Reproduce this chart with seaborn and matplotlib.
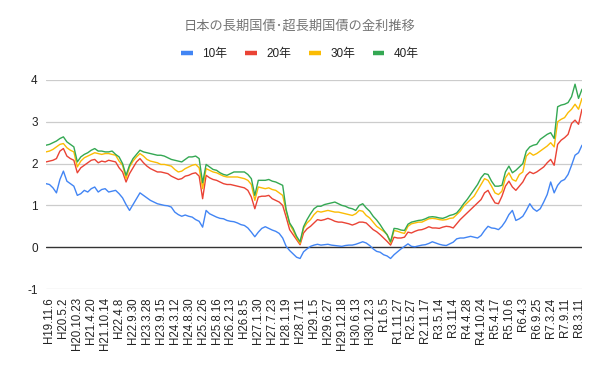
import numpy as np
import pandas as pd
import matplotlib
matplotlib.use("Agg")
import matplotlib.pyplot as plt
import seaborn as sns

# tick labels (every 4th data point)
tick_labels = [
    "H19.11.6", "H20.5.2", "H20.10.23", "H21.4.20", "H21.10.14", "H22.4.8",
    "H22.9.30", "H23.3.28", "H23.9.15", "H24.3.12", "H24.8.30", "H25.2.26",
    "H25.8.16", "H26.2.13", "H26.8.5", "H27.1.30", "H27.7.23", "H28.1.19",
    "H28.7.11", "H29.1.5", "H29.6.27", "H29.12.18", "H30.6.13", "H30.12.3",
    "R1.6.5", "R1.11.27", "R2.5.27", "R2.11.17", "R3.5.14", "R3.11.4",
    "R4.4.28", "R4.10.24", "R5.4.17", "R5.10.6", "R6.4.3", "R6.9.25",
    "R7.3.24", "R7.9.11", "R8.3.11",
]

# yields (%), one value per sample
y10 = [
    1.52, 1.50, 1.42, 1.30, 1.62, 1.82, 1.58, 1.52, 1.46, 1.24,
    1.28, 1.36, 1.32, 1.40, 1.44, 1.32, 1.38, 1.40, 1.32, 1.34,
    1.36, 1.28, 1.18, 1.02, 0.88, 1.02, 1.16, 1.30, 1.24, 1.18,
    1.12, 1.08, 1.04, 1.02, 1.00, 0.99, 0.96, 0.84, 0.78, 0.74,
    0.77, 0.74, 0.72, 0.66, 0.62, 0.48, 0.88, 0.80, 0.76, 0.72,
    0.69, 0.68, 0.64, 0.62, 0.61, 0.58, 0.54, 0.52, 0.46, 0.36,
    0.25, 0.36, 0.45, 0.49, 0.45, 0.41, 0.38, 0.33, 0.22, 0.02,
    -0.08, -0.16, -0.24, -0.27, -0.11, -0.04, 0.02, 0.05, 0.07, 0.05,
    0.06, 0.07, 0.05, 0.04, 0.03, 0.02, 0.04, 0.05, 0.05, 0.07,
    0.10, 0.13, 0.10, 0.04, -0.04, -0.10, -0.12, -0.18, -0.21, -0.27,
    -0.18, -0.11, -0.04, 0.02, 0.08, 0.02, 0.01, 0.03, 0.05, 0.06,
    0.09, 0.13, 0.10, 0.07, 0.05, 0.04, 0.08, 0.12, 0.20, 0.22,
    0.22, 0.24, 0.26, 0.24, 0.22, 0.28, 0.40, 0.50, 0.46, 0.45,
    0.42, 0.50, 0.62, 0.78, 0.88, 0.64, 0.68, 0.74, 0.88, 1.04,
    0.92, 0.86, 0.92, 1.08, 1.26, 1.56, 1.30, 1.48, 1.58, 1.62,
    1.74, 1.96, 2.20, 2.26, 2.44,
]
y20 = [
    2.04, 2.06, 2.08, 2.12, 2.30, 2.36, 2.18, 2.12, 2.08, 1.78,
    1.90, 1.96, 2.02, 2.08, 2.10, 2.02, 2.06, 2.04, 2.08, 2.06,
    2.04, 1.90, 1.80, 1.56, 1.76, 1.90, 2.04, 2.12, 2.02, 1.94,
    1.88, 1.84, 1.80, 1.80, 1.78, 1.76, 1.70, 1.66, 1.62, 1.64,
    1.70, 1.72, 1.76, 1.78, 1.70, 1.16, 1.72, 1.66, 1.62, 1.60,
    1.56, 1.52, 1.50, 1.50, 1.48, 1.46, 1.44, 1.42, 1.36, 1.20,
    0.92, 1.20, 1.22, 1.22, 1.24, 1.16, 1.12, 1.08, 1.00, 0.72,
    0.42, 0.30, 0.18, 0.06, 0.34, 0.44, 0.50, 0.58, 0.66, 0.64,
    0.66, 0.69, 0.66, 0.62, 0.60, 0.60, 0.58, 0.56, 0.53, 0.56,
    0.60, 0.60, 0.58, 0.50, 0.42, 0.37, 0.30, 0.22, 0.14, 0.05,
    0.24, 0.22, 0.22, 0.24, 0.36, 0.34, 0.38, 0.41, 0.42, 0.45,
    0.49, 0.46, 0.46, 0.45, 0.48, 0.50, 0.49, 0.46, 0.56, 0.66,
    0.74, 0.82, 0.90, 0.98, 1.06, 1.14, 1.30, 1.36, 1.20, 1.06,
    1.04, 1.22, 1.46, 1.58, 1.44, 1.36, 1.46, 1.56, 1.72, 1.80,
    1.76, 1.80, 1.86, 1.92, 2.02, 2.10, 1.96, 2.46, 2.56, 2.62,
    2.70, 2.96, 3.04, 2.94, 3.30,
]
y30 = [
    2.28, 2.30, 2.34, 2.40, 2.46, 2.48, 2.38, 2.32, 2.28, 1.92,
    2.06, 2.14, 2.18, 2.22, 2.26, 2.24, 2.22, 2.24, 2.24, 2.22,
    2.20, 2.06, 1.96, 1.64, 1.92, 2.06, 2.16, 2.24, 2.18, 2.10,
    2.06, 2.04, 2.02, 1.98, 1.98, 1.96, 1.94, 1.86, 1.80, 1.82,
    1.88, 1.92, 1.96, 1.98, 1.90, 1.40, 1.88, 1.84, 1.80, 1.78,
    1.74, 1.70, 1.68, 1.68, 1.68, 1.68, 1.66, 1.64, 1.60, 1.50,
    1.12, 1.44, 1.42, 1.40, 1.42, 1.38, 1.36, 1.30, 1.24, 0.86,
    0.55, 0.40, 0.22, 0.09, 0.45, 0.58, 0.66, 0.78, 0.86, 0.84,
    0.86, 0.88, 0.86, 0.84, 0.84, 0.82, 0.80, 0.78, 0.76, 0.80,
    0.88, 0.86, 0.76, 0.70, 0.60, 0.50, 0.44, 0.38, 0.30, 0.10,
    0.40, 0.38, 0.35, 0.33, 0.50, 0.56, 0.58, 0.60, 0.60, 0.64,
    0.68, 0.69, 0.68, 0.66, 0.65, 0.66, 0.69, 0.70, 0.78, 0.86,
    0.98, 1.06, 1.14, 1.22, 1.36, 1.50, 1.64, 1.60, 1.46, 1.30,
    1.26, 1.34, 1.66, 1.78, 1.62, 1.58, 1.74, 1.80, 2.18, 2.26,
    2.20, 2.24, 2.30, 2.36, 2.42, 2.50, 2.40, 3.00, 3.06, 3.10,
    3.22, 3.30, 3.42, 3.30, 3.56,
]
y40 = [
    2.44, 2.46, 2.50, 2.54, 2.60, 2.64, 2.52, 2.46, 2.40, 2.04,
    2.16, 2.22, 2.26, 2.32, 2.36, 2.30, 2.30, 2.28, 2.28, 2.30,
    2.22, 2.16, 2.00, 1.72, 1.96, 2.12, 2.22, 2.32, 2.28, 2.26,
    2.24, 2.22, 2.20, 2.20, 2.18, 2.14, 2.10, 2.08, 2.06, 2.04,
    2.10, 2.16, 2.16, 2.18, 2.12, 1.54, 1.98, 1.92, 1.86, 1.84,
    1.78, 1.74, 1.72, 1.76, 1.80, 1.80, 1.80, 1.80, 1.74, 1.64,
    1.24, 1.60, 1.60, 1.60, 1.62, 1.58, 1.56, 1.52, 1.48, 0.90,
    0.58, 0.45, 0.26, 0.13, 0.49, 0.66, 0.80, 0.92, 0.98, 0.98,
    1.02, 1.04, 1.06, 1.08, 1.04, 1.00, 0.98, 0.94, 0.92, 0.88,
    1.00, 1.04, 0.94, 0.86, 0.74, 0.65, 0.54, 0.41, 0.30, 0.13,
    0.45, 0.44, 0.41, 0.40, 0.55, 0.60, 0.62, 0.64, 0.65, 0.68,
    0.72, 0.73, 0.72, 0.70, 0.69, 0.72, 0.76, 0.78, 0.82, 0.92,
    1.04, 1.14, 1.26, 1.38, 1.50, 1.66, 1.76, 1.74, 1.58, 1.46,
    1.46, 1.48, 1.80, 1.94, 1.78, 1.84, 1.92, 2.00, 2.30, 2.40,
    2.44, 2.46, 2.58, 2.64, 2.70, 2.74, 2.60, 3.36, 3.40, 3.42,
    3.46, 3.60, 3.90, 3.56, 3.78,
]

series_names = ["10年", "20年", "30年", "40年"]
series_colors = ["#4285F4", "#EA4335", "#FBBC04", "#34A853"]

n = len(y10)
df = pd.DataFrame({
    "idx": np.tile(np.arange(n), 4),
    "value": y10 + y20 + y30 + y40,
    "series": np.repeat(series_names, n),
})

sns.set_style("white")
plt.rcParams["font.family"] = ["Liberation Sans", "Noto Sans CJK JP", "DejaVu Sans"]

fig = plt.figure(figsize=(6, 3.71), dpi=100)
ax = fig.add_axes([46 / 600, 1 - 289 / 371, 536 / 600, 209 / 371])

# gridlines first so lines sit on top
for v in [-1, 1, 2, 3, 4]:
    ax.axhline(v, color="#cccccc", lw=0.9, zorder=0)
ax.axhline(0, color="#333333", lw=1.0, zorder=1)

sns.lineplot(data=df, x="idx", y="value", hue="series",
             hue_order=series_names, palette=series_colors,
             linewidth=1.0, ax=ax, legend=False, zorder=2)

ax.set_xlim(0, n - 1)
ax.set_ylim(-1, 4)
ax.set_yticks([-1, 0, 1, 2, 3, 4])
ax.set_yticklabels(["-1", "0", "1", "2", "3", "4"])
ax.set_xticks(np.arange(1, n, 4))
ax.set_xticklabels(tick_labels, rotation=90, va="top", ha="center")
ax.tick_params(axis="x", length=0, pad=6, labelsize=8.3, colors="#222222")
ax.tick_params(axis="y", length=0, pad=6, labelsize=8.5, colors="#222222")
ax.set_xlabel("")
ax.set_ylabel("")
for s in ax.spines.values():
    s.set_visible(False)

fig.text(0.5, 1 - 26 / 371, "日本の長期国債･超長期国債の金利推移",
         ha="center", va="center", fontsize=9.5, color="#757575")

handles = [plt.Line2D([], [], color=c, lw=3.2, solid_capstyle="butt")
           for c in series_colors]
fig.legend(handles, series_names, loc="center", ncol=4, frameon=False,
           bbox_to_anchor=(0.5, 1 - 54 / 371), bbox_transform=fig.transFigure,
           fontsize=8.5, handlelength=1.0, handletextpad=0.8,
           columnspacing=1.5, labelcolor="#222222")

fig.savefig("out.png", dpi=100)
